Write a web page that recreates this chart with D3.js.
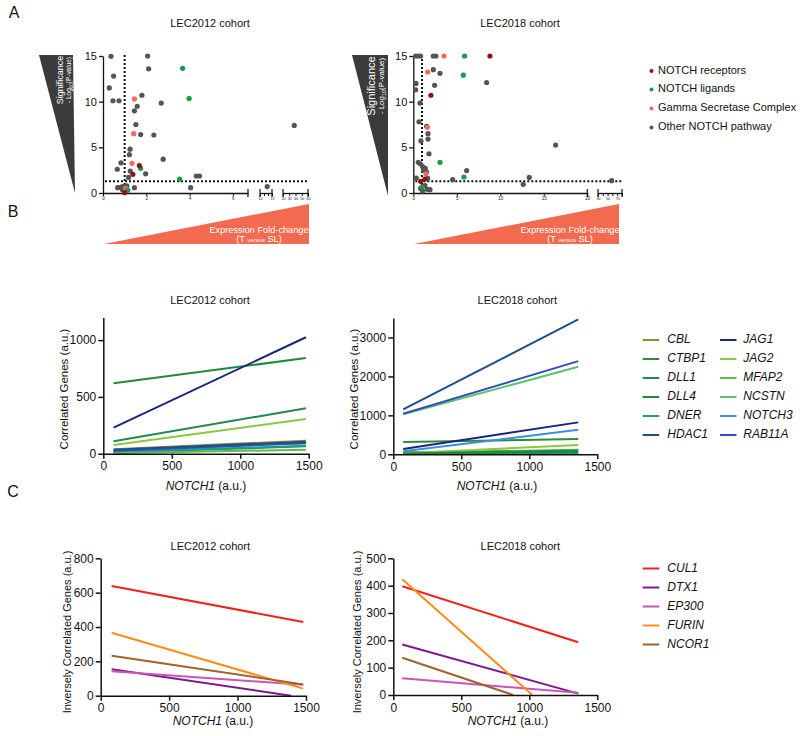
<!DOCTYPE html>
<html><head><meta charset="utf-8">
<script src="https://cdn.jsdelivr.net/npm/d3@7"></script>
<style>
body{margin:0;background:#fff}
text{font-family:"Liberation Sans",Arial,Helvetica,sans-serif;fill:#111}
.axis path,.axis line{stroke:#111}
</style></head>
<body><svg id="c" width="800" height="736"></svg>
<script>
// ---------------- DATA ----------------
const scatterCategories = ["NOTCH receptors","NOTCH ligands","Gamma Secretase Complex","Other NOTCH pathway"];
// [fold-change, -log10 p, category index]
const scatter2012 = [
 [0.37,14.96,3],[2.06,15,3],[0.49,12.8,3],[0.29,11.5,3],[0.46,10.1,3],[0.74,10.1,3],[2.11,13.6,3],[1.8,10.7,3],
 [1.58,9.5,3],[1.45,9.0,3],[2.69,9.85,3],[1.52,7.5,3],[1.74,6.4,3],[2.35,6.35,3],[1.25,4.8,3],[1.22,4.2,3],
 [0.83,3.3,3],[0.66,2.6,3],[2.78,3.7,3],[1.26,2.4,3],[1.97,2.1,3],[1.18,1.7,3],[4.31,1.86,3],[4.46,1.86,3],
 [4.05,0.58,3],[0.68,0.58,3],[0.89,0.7,3],[1.0,0.58,3],[1.1,0.77,3],[0.9,0.36,3],[1.45,0.58,3],[0.8,0.6,3],
 [11.8,0.7,3],[38,7.4,3],
 [1.45,10.3,2],[1.42,6.5,2],[1.34,3.25,2],[1.05,0.5,2],
 [1.38,2.04,0],[1.68,3.0,0],[1.0,0.04,0],
 [3.68,13.65,1],[3.98,10.36,1],[1.74,2.7,1],[3.54,1.53,1],[1.15,0.3,1]
];
const scatter2018 = [
 [0.27,15,3],[0.57,15,3],[0.84,15,3],[2.3,15,3],[2.6,15,3],[2.3,13.5,3],[3.07,13.1,3],[2.45,11.8,3],
 [0.31,12,3],[0.27,11.3,3],[0.77,9.85,3],[0.65,7.8,3],[1.53,7.3,3],[1.69,6.5,3],[1.69,5.9,3],[0.88,5.7,3],
 [1.8,4.3,3],[0.57,3.36,3],[0.8,3.2,3],[1.07,2.9,3],[1.38,2.7,3],[1.19,2.5,3],[1.53,2.3,3],[1.65,1.6,3],
 [0.34,1.64,3],[6.13,2.45,3],[4.52,1.46,3],[8.43,12.1,3],[16.36,5.25,3],[12.64,0.95,3],[13.33,1.7,3],
 [1.61,0.4,3],[1.92,0.36,3],[1.34,0.8,3],[1.07,0.22,3],[0.84,0.5,3],[58.5,1.35,3],
 [3.52,15,2],[1.65,13.25,2],[1.61,7.2,2],[1.46,2.1,2],
 [8.81,15,0],[2.03,10.7,0],[0.84,1.28,0],[1.34,1.53,0],
 [5.9,15,1],[5.75,12.9,1],[3.07,3.36,1],[5.82,1.75,1],[1.0,0.66,1]
];
const sigTicks = [0,5,10,15];
const foldSegments2012 = [[0,6.7],[10,13],[20,60]];
const foldTicks2012 = [[0,2,4,6],[10,11,12,13],[20,30,40,50,60]];
const foldTickLabels2012 = [[0,2,4,6],[10,13],[20,30,40,50,60]];
const foldSegments2018 = [[0,20],[30,80]];
const foldTicks2018 = [[0,5,10,15,20],[30,40,50,60,70,80]];
const foldTickLabels2018 = [[0,5,10,15,20],[30,50,70]];
const foldCutoff = 1, sigCutoff = 1.3;

const genesB = ["CBL","CTBP1","DLL1","DLL4","DNER","HDAC1","JAG1","JAG2","MFAP2","NCSTN","NOTCH3","RAB11A"];
const notchRange2012 = [75,1480];
const corrStart2012 = [40,10,110,620,15,35,229,77,5,30,20,25];
const corrEnd2012   = [115,65,400,842,70,105,1025,305,35,90,100,95];
const notchRange2018 = [73,1360];
const corrStart2018 = [60,316,20,10,10,1154,136,30,40,1030,77,1040];
const corrEnd2018   = [40,392,100,60,30,3462,820,238,120,2246,631,2392];

const genesC = ["CUL1","DTX1","EP300","FURIN","NCOR1"];
// [x0,y0,x1,y1]
const inv2012 = [[80,639,1480,429],[80,154,1390,0],[80,142,1480,64],[80,367,1480,41],[80,233,1480,66]];
const inv2018 = [[66,398,1360,193],[66,185,1360,5],[66,61,1360,8],[66,423,1022,0],[66,136,882,0]];
const notchTicks = [0,500,1000,1500];

// ---------------- STYLE ----------------
const catColors = ["#8e1515","#1b9a4b","#f26a5c","#545456"];
const colorsB = ["#8e8e2c","#2e8b3a","#23894b","#1d8a3d","#1a9a9a","#1f4e8f","#1b2580","#8dc63f","#5bbb45","#5dc46e","#3a8fe0","#2f50b8"];
const colorsC = ["#f0221e","#7b1a8f","#c855b8","#ff8c1a","#a0642a"];

const svg = d3.select("#c");
const FONT = "Liberation Sans, Arial, sans-serif";
const fmt = d3.format("d");

function label(x,y,t,size,anchor){
  return svg.append("text").attr("x",x).attr("y",y).attr("font-size",size)
    .attr("text-anchor",anchor||"middle").attr("dominant-baseline","middle").text(t);
}
// panel letters
label(14,14,"A",16);
label(13,213,"B",16);
label(13,493,"C",16);

// ---------------- PANEL A ----------------
function scatterPanel(opt){
  const y = d3.scaleLinear().domain([0,15]).range([193,56]);
  const segScales = opt.segments.map((d,i)=>d3.scaleLinear().domain(d).range(opt.ranges[i]));
  const x = v => { for(const s of segScales){const [a,b]=s.domain(); if(v>=a&&v<=b) return s(v);} return segScales[segScales.length-1](v); };
  const g = svg.append("g");
  label(opt.titleX,24,opt.title,11);
  // gray triangle
  g.append("path").attr("d",d3.line()(opt.tri)).attr("fill","#3b3b3d");
  const tcx = opt.textX, tcy = opt.textY;
  g.append("text").attr("transform",`translate(${tcx},${tcy}) rotate(-90)`)
     .attr("text-anchor","middle").attr("font-size",opt.sigSize).style("fill","#fff").text("Significance");
  const t2 = g.append("text").attr("transform",`translate(${tcx+opt.sigSize*0.85},${tcy}) rotate(-90)`)
     .attr("text-anchor","middle").attr("font-size",opt.sigSize*0.72).style("fill","#fff");
  t2.append("tspan").text("- Log");
  t2.append("tspan").attr("font-size",opt.sigSize*0.5).attr("dy",2).text("10");
  t2.append("tspan").attr("dy",-2).text("(P-value)");
  // orange triangle
  g.append("path").attr("d",d3.line()(opt.otri)).attr("fill","#f26a4f");
  g.append("text").attr("x",opt.oTextX).attr("y",232.5).attr("text-anchor","middle").attr("font-size",9.2).style("fill","#fff").text("Expression Fold-change");
  const o2 = g.append("text").attr("x",opt.oTextX).attr("y",241.5).attr("text-anchor","middle").attr("font-size",9.2).style("fill","#fff");
  o2.append("tspan").text("(T ");
  o2.append("tspan").attr("font-size",6).text("versus");
  o2.append("tspan").text(" SL)");
  // y axis
  const ya = g.append("g").attr("class","axis").attr("transform",`translate(${opt.ranges[0][0]},0)`)
    .call(d3.axisLeft(y).tickValues(sigTicks).tickSize(4).tickSizeOuter(0).tickFormat(fmt));
  ya.selectAll("text").attr("font-size",11).attr("font-family",FONT).attr("dx",1);
  ya.selectAll("path,line").attr("stroke-width",1.3);
  // x axis segments
  segScales.forEach((s,i)=>{
    const labs = opt.tickLabels[i];
    const a = g.append("g").attr("class","axis").attr("transform","translate(0,193)")
      .call(d3.axisBottom(s).tickValues(opt.ticks[i]).tickSize(3).tickSizeOuter(0).tickPadding(1)
        .tickFormat(v=>labs.includes(v)?fmt(v):""));
    a.selectAll("text").attr("font-size",i?3.6:4.5).attr("font-family",FONT);
    a.selectAll("path,line").attr("stroke-width",1);
    a.select("path").attr("stroke-width",1.3);
    const [r0,r1] = s.range();
    if(i>0) g.append("line").attr("x1",r0).attr("x2",r0).attr("y1",189).attr("y2",197).attr("stroke","#111").attr("stroke-width",1.2);
    g.append("line").attr("x1",r1).attr("x2",r1).attr("y1",189).attr("y2",197).attr("stroke","#111").attr("stroke-width",1.2);
  });
  // cutoff lines
  const xEnd = opt.ranges[opt.ranges.length-1][1];
  g.append("line").attr("x1",x(foldCutoff)).attr("x2",x(foldCutoff)).attr("y1",y(0)).attr("y2",y(15.1))
    .attr("stroke","#111").attr("stroke-width",2).attr("stroke-dasharray","2,2");
  g.append("line").attr("x1",opt.ranges[0][0]+2).attr("x2",xEnd).attr("y1",y(sigCutoff)).attr("y2",y(sigCutoff))
    .attr("stroke","#111").attr("stroke-width",2).attr("stroke-dasharray","2,2");
  // points
  g.append("g").selectAll("circle").data(opt.data.slice().sort((a,b)=>b[2]-a[2])).join("circle")
    .attr("cx",d=>x(d[0])).attr("cy",d=>y(d[1])).attr("r",2.6).attr("fill",d=>catColors[d[2]]);
}
scatterPanel({data:scatter2012,segments:foldSegments2012,ticks:foldTicks2012,tickLabels:foldTickLabels2012,
  ranges:[[103,248],[260,272],[283,308]],title:"LEC2012 cohort",titleX:210,
  tri:[[39,55],[73,55],[75,193]],textX:63,textY:80,sigSize:9,
  otri:[[104,244],[309,204],[309,244]],oTextX:259});
scatterPanel({data:scatter2018,segments:foldSegments2018,ticks:foldTicks2018,tickLabels:foldTickLabels2018,
  ranges:[[413.3,587.3],[598,622]],title:"LEC2018 cohort",titleX:520,
  tri:[[352,55],[388,55],[388,196]],textX:375,textY:86,sigSize:11,
  otri:[[414,244],[619,204],[619,244]],oTextX:570});
// legend A
scatterCategories.forEach((c,i)=>{
  const yy=[71,89.5,108.5,127.5][i];
  svg.append("circle").attr("cx",651.5).attr("cy",yy).attr("r",2).attr("fill",catColors[i]);
  label(658,yy,c,11,"start");
});

// ---------------- LINE PANELS ----------------
function linePanel(opt){
  const x = d3.scaleLinear().domain([0,1500]).range(opt.xr);
  const y = d3.scaleLinear().domain(opt.yd).range(opt.yr);
  const g = svg.append("g");
  label((opt.xr[0]+opt.xr[1])/2+opt.tdx,opt.titleY,opt.title,11);
  opt.lines.forEach(l=>{
    g.append("line").attr("x1",x(l[0])).attr("y1",y(l[1])).attr("x2",x(l[2])).attr("y2",y(l[3]))
     .attr("stroke",opt.colors[l[4]]).attr("stroke-width",2);
  });
  const xa = g.append("g").attr("class","axis").attr("transform",`translate(0,${opt.yr[0]})`)
    .call(d3.axisBottom(x).tickValues(notchTicks).tickSize(5).tickSizeOuter(0).tickPadding(3).tickFormat(fmt));
  const ya = g.append("g").attr("class","axis").attr("transform",`translate(${opt.xr[0]},0)`)
    .call(d3.axisLeft(y).tickValues(opt.yt).tickSize(5).tickSizeOuter(0).tickPadding(2).tickFormat(fmt));
  [xa,ya].forEach(a=>{a.selectAll("text").attr("font-size",12).attr("font-family",FONT);
    a.selectAll("path,line").attr("stroke-width",1.5);});
  g.append("text").attr("transform",`translate(${opt.ylx},${opt.yly}) rotate(-90)`).attr("text-anchor","middle")
    .attr("dominant-baseline","middle").attr("font-size",opt.ylSize).text(opt.ylabel);
  const xl = g.append("text").attr("x",opt.xlx).attr("y",opt.xly).attr("text-anchor","middle").attr("dominant-baseline","middle").attr("font-size",12);
  xl.append("tspan").attr("font-style","italic").text("NOTCH1");
  xl.append("tspan").text(" (a.u.)");
}
const linesB2012 = genesB.map((g,i)=>[notchRange2012[0],corrStart2012[i],notchRange2012[1],corrEnd2012[i],i]);
const linesB2018 = genesB.map((g,i)=>[notchRange2018[0],corrStart2018[i],notchRange2018[1],corrEnd2018[i],i]);
const orderB = [0,1,4,8,9,7,2,10,11,5,3,6];
linePanel({xr:[103.3,308.7],yd:[0,1200],yr:[453.7,317.4],yt:[0,500,1000],title:"LEC2012 cohort",titleY:301,tdx:4,
  lines:orderB.map(i=>linesB2012[i]),colors:colorsB,ylabel:"Correlated Genes (a.u.)",ylx:65,yly:389,ylSize:11.5,xlx:206,xly:487});
linePanel({xr:[393.3,597.3],yd:[0,3500],yr:[454.3,318],yt:[0,1000,2000,3000],title:"LEC2018 cohort",titleY:301,tdx:22,
  lines:orderB.map(i=>linesB2018[i]),colors:colorsB,ylabel:"Correlated Genes (a.u.)",ylx:355,yly:389,ylSize:11.5,xlx:497,xly:487});
linePanel({xr:[100.7,306],yd:[0,800],yr:[695.7,558.3],yt:[0,200,400,600,800],title:"LEC2012 cohort",titleY:547,tdx:7,
  lines:inv2012.map((l,i)=>[...l,i]),colors:colorsC,ylabel:"Inversely Correlated Genes (a.u.)",ylx:68,yly:632,ylSize:11,xlx:213,xly:722});
linePanel({xr:[393.3,597.3],yd:[0,500],yr:[695,558.3],yt:[0,100,200,300,400,500],title:"LEC2018 cohort",titleY:547,tdx:25,
  lines:inv2018.map((l,i)=>[...l,i]),colors:colorsC,ylabel:"Inversely Correlated Genes (a.u.)",ylx:358,yly:632,ylSize:11,xlx:508,xly:722});

// legends B and C
genesB.forEach((gname,i)=>{
  const col = Math.floor(i/6), row = i%6;
  const lx = col? 720 : 642.7, yy = [340,359,378,397,416,435][row];
  svg.append("line").attr("x1",lx).attr("x2",lx+16.5).attr("y1",yy).attr("y2",yy).attr("stroke",colorsB[i]).attr("stroke-width",2);
  label(lx+(col?23.3:24.6),yy,gname,12,"start").attr("font-style","italic");
});
genesC.forEach((gname,i)=>{
  const yy = [568.5,587.5,606.5,625.5,644.5][i];
  svg.append("line").attr("x1",642.7).attr("x2",659.3).attr("y1",yy).attr("y2",yy).attr("stroke",colorsC[i]).attr("stroke-width",2);
  label(667.3,yy,gname,12,"start").attr("font-style","italic");
});
</script></body></html>
